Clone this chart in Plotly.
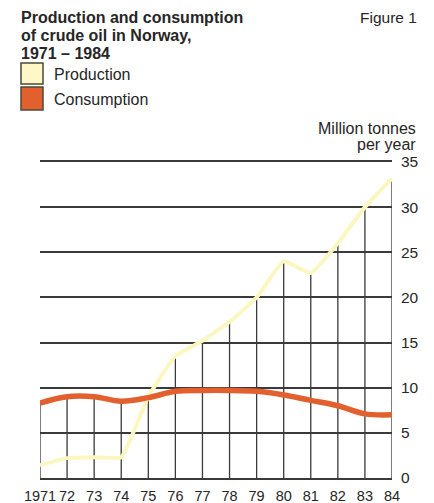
import plotly.graph_objects as go

# data (million tonnes per year)
years = list(range(1971, 1985))
year_labels = ["1971", "72", "73", "74", "75", "76", "77", "78", "79", "80", "81", "82", "83", "84"]
production = [1.4, 2.2, 2.3, 2.3, 9.0, 13.5, 15.2, 17.3, 20.0, 24.0, 22.7, 26.0, 30.0, 33.2]
consumption = [8.3, 9.0, 9.0, 8.5, 8.9, 9.6, 9.7, 9.7, 9.6, 9.2, 8.6, 8.0, 7.1, 7.0]
y_ticks = [0, 5, 10, 15, 20, 25, 30, 35]

# the page body keeps its default 8px margin, so the figure is drawn 8px in
OFFSET = 8
WIDTH, HEIGHT = 434 - OFFSET, 503 - OFFSET
MARGIN = {"l": 40 - OFFSET, "r": 42, "t": 162 - OFFSET, "b": 25, "autoexpand": False}
PLOT_W = WIDTH - MARGIN["l"] - MARGIN["r"]
PLOT_H = HEIGHT - MARGIN["t"] - MARGIN["b"]

FONT = "Liberation Sans, Arial, sans-serif"
TEXT_COLOR = "#262626"
GRID_COLOR = "#3a3a3a"
PROD_COLOR = "#fcf7c0"
PROD_BOX = "#fdf8c6"
CONS_COLOR = "#e2602d"


def px_x(px):
    # window pixel column -> paper x
    return (px - OFFSET - MARGIN["l"]) / PLOT_W


def px_y(py):
    # window pixel row -> paper y
    return (HEIGHT - MARGIN["b"] - (py - OFFSET)) / PLOT_H


# drop lines from the baseline up to the higher of the two series
stem_x, stem_y = [], []
for yr, p, c in zip(years, production, consumption):
    stem_x += [yr, yr, None]
    stem_y += [0, max(p, c), None]

fig = go.Figure()
fig.add_trace(go.Scatter(
    x=stem_x, y=stem_y, mode="lines",
    line={"color": GRID_COLOR, "width": 1.3},
    hoverinfo="skip", showlegend=False,
))
fig.add_trace(go.Scatter(
    x=years, y=production, mode="lines", name="Production",
    line={"color": PROD_COLOR, "width": 4, "shape": "spline", "smoothing": 0.4},
    showlegend=False,
))
fig.add_trace(go.Scatter(
    x=years, y=consumption, mode="lines", name="Consumption",
    line={"color": CONS_COLOR, "width": 5.5, "shape": "spline", "smoothing": 1},
    showlegend=False,
))

annotations = []
# title, one line each to keep the tight leading
for text, top in [("Production and consumption", 8), ("of crude oil in Norway,", 26), ("1971 – 1984", 44)]:
    annotations.append(dict(
        x=px_x(20), y=px_y(top), xref="paper", yref="paper", xanchor="left", yanchor="top",
        text=f"<b>{text}</b>", showarrow=False, font={"size": 16, "color": TEXT_COLOR},
        borderpad=0,
    ))
annotations.append(dict(
    x=px_x(418), y=px_y(8), xref="paper", yref="paper", xanchor="right", yanchor="top",
    text="Figure 1", showarrow=False, font={"size": 15.5, "color": TEXT_COLOR}, borderpad=0,
))
for text, cy in [("Production", 74), ("Consumption", 99)]:
    annotations.append(dict(
        x=px_x(52), y=px_y(cy), xref="paper", yref="paper", xanchor="left", yanchor="middle",
        text=text, showarrow=False, font={"size": 16, "color": TEXT_COLOR},
    ))
for text, cy in [("Million tonnes", 128), ("per year", 145)]:
    annotations.append(dict(
        x=px_x(418), y=px_y(cy), xref="paper", yref="paper", xanchor="right", yanchor="middle",
        text=text, showarrow=False, font={"size": 16, "color": TEXT_COLOR},
    ))

# legend boxes
shapes = []
for fill, top, bottom in [(PROD_BOX, 63, 84), (CONS_COLOR, 87, 110)]:
    shapes.append(dict(
        type="rect", xref="paper", yref="paper",
        x0=px_x(21), x1=px_x(43), y0=px_y(bottom), y1=px_y(top),
        fillcolor=fill, line={"color": "#4a4a3a", "width": 1.5},
    ))

fig.update_layout(
    width=WIDTH, height=HEIGHT, margin=MARGIN,
    paper_bgcolor="white", plot_bgcolor="white",
    font={"family": FONT, "color": TEXT_COLOR, "size": 15},
    annotations=annotations, shapes=shapes,
    xaxis={
        "range": [1971, 1984], "tickvals": years, "ticktext": year_labels,
        "showgrid": False, "zeroline": False,
        "showline": True, "mirror": True, "linecolor": GRID_COLOR, "linewidth": 1.6,
        "ticks": "", "ticklabelstandoff": 4, "tickangle": 0, "automargin": False,
        "tickfont": {"size": 14.5},
    },
    yaxis={
        "range": [0, 35], "tickvals": y_ticks, "side": "right",
        "showgrid": True, "gridcolor": GRID_COLOR, "gridwidth": 1.6,
        "zeroline": False, "showline": False, "ticks": "", "automargin": False,
        "ticklabelstandoff": 8, "tickfont": {"size": 15.5},
    },
)

fig.write_html("out.html")
